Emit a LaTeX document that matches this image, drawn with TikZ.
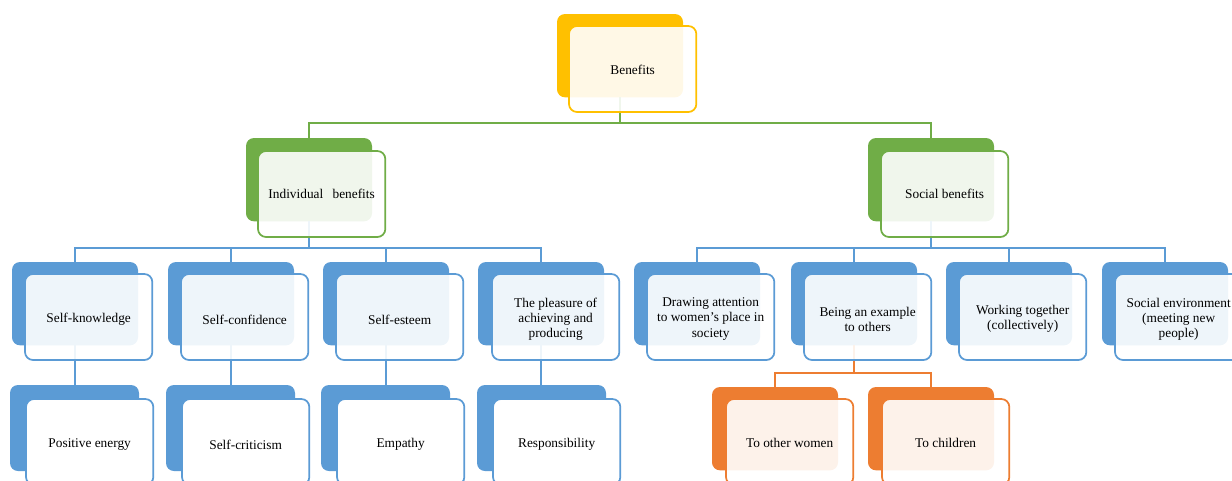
\documentclass[tikz,border=0pt]{standalone}
\usepackage{fontspec}
\setmainfont{Liberation Serif}
\definecolor{cYel}{HTML}{FFC000}
\definecolor{cGrn}{HTML}{70AD47}
\definecolor{cBlu}{HTML}{5B9BD5}
\definecolor{cOrg}{HTML}{ED7D31}
\tikzset{
  bk/.style={fill=#1, draw=none, rounded corners=6pt, anchor=north west, inner sep=0pt, outer sep=0pt,
    minimum width=94.5pt, minimum height=62.5pt},
  bkL/.style={bk=#1, minimum width=96.75pt, minimum height=64.5pt},
  fr/.style={draw=#1, line width=1.3pt, fill=white, fill opacity=0.9, rounded corners=6pt,
    anchor=north west, inner sep=0pt, outer sep=0pt, minimum width=95.5pt, minimum height=64.5pt},
  frL/.style={fr=#1, fill opacity=1},
  txt/.style={align=center, inner sep=0pt, font=\fontsize{10}{11.3}\selectfont},
  conn/.style={draw=#1, line width=1.2pt},
}
\begin{document}
\begin{tikzpicture}[x=0.75pt,y=-0.75pt]
\useasboundingbox (0,0) rectangle (1232,480);
\clip (0,0) rectangle (1232,480);
% back boxes
\node[bk=cYel] (ben-b) at (557,14) {};
\node[bk=cGrn] (ind-b) at (246,138) {};
\node[bk=cGrn] (soc-b) at (868,138) {};
\node[bk=cBlu] (sk-b) at (12,262) {};
\node[bk=cBlu] (sc-b) at (168,262) {};
\node[bk=cBlu] (se-b) at (323,262) {};
\node[bk=cBlu] (pl-b) at (478,262) {};
\node[bk=cBlu] (da-b) at (634,262) {};
\node[bk=cBlu] (be-b) at (791,262) {};
\node[bk=cBlu] (wt-b) at (946,262) {};
\node[bk=cBlu] (sv-b) at (1102,262) {};
\node[bkL=cBlu] (pe-b) at (10,385) {};
\node[bkL=cBlu] (cr-b) at (166,385) {};
\node[bkL=cBlu] (em-b) at (321,385) {};
\node[bkL=cBlu] (re-b) at (477,385) {};
\node[bk=cOrg] (ow-b) at (712,387) {};
\node[bk=cOrg] (ch-b) at (868,387) {};
% connectors
\coordinate (bus1) at (620,123);
\coordinate (bus2) at (308,248);
\coordinate (bus3) at (853,373);
\draw[conn=cGrn] (ben-b.south) -- (ben-b.south |- bus1) -| (ind-b.north);
\draw[conn=cGrn] (ben-b.south |- bus1) -| (soc-b.north);
\draw[conn=cBlu] (ind-b.south) -- (ind-b.south |- bus2) -| (sk-b.north);
\draw[conn=cBlu] (ind-b.south |- bus2) -| (sc-b.north);
\draw[conn=cBlu] (ind-b.south |- bus2) -| (se-b.north);
\draw[conn=cBlu] (ind-b.south |- bus2) -| (pl-b.north);
\draw[conn=cBlu] (soc-b.south) -- (soc-b.south |- bus2) -| (da-b.north);
\draw[conn=cBlu] (soc-b.south |- bus2) -| (be-b.north);
\draw[conn=cBlu] (soc-b.south |- bus2) -| (wt-b.north);
\draw[conn=cBlu] (soc-b.south |- bus2) -| (sv-b.north);
\draw[conn=cBlu] (sk-b.south) -- (sk-b.south |- pe-b.north);
\draw[conn=cBlu] (sc-b.south) -- (sc-b.south |- cr-b.north);
\draw[conn=cBlu] (se-b.south) -- (se-b.south |- em-b.north);
\draw[conn=cBlu] (pl-b.south) -- (pl-b.south |- re-b.north);
\draw[conn=cOrg] (be-b.south) -- (be-b.south |- bus3) -| (ow-b.north);
\draw[conn=cOrg] (be-b.south |- bus3) -| (ch-b.north);
% front boxes
\node[fr=cYel] (ben) at (569,26) {};
\node[fr=cGrn] (ind) at (258,151) {};
\node[fr=cGrn] (soc) at (881,151) {};
\node[fr=cBlu] (sk) at (25,274) {};
\node[fr=cBlu] (sc) at (181,274) {};
\node[fr=cBlu] (se) at (336,274) {};
\node[fr=cBlu] (pl) at (492,274) {};
\node[fr=cBlu] (da) at (647,274) {};
\node[fr=cBlu] (be) at (804,274) {};
\node[fr=cBlu] (wt) at (959,274) {};
\node[fr=cBlu] (sv) at (1115,274) {};
\node[frL=cBlu] (pe) at (26,399) {};
\node[frL=cBlu] (cr) at (182,399) {};
\node[frL=cBlu] (em) at (337,399) {};
\node[frL=cBlu] (re) at (493,399) {};
\node[fr=cOrg] (ow) at (726,399) {};
\node[fr=cOrg] (ch) at (882,399) {};
% texts
\node[txt] (ben-t) at ([yshift=-0.5pt]ben.center) {Benefits};
\node[txt] (ind-t) at (ind.center) {Individual\hspace{0.45em} benefits};
\node[txt] (soc-t) at (soc.center) {Social benefits};
\node[txt] (sk-t) at ([yshift=-2pt]sk.center) {Self-knowledge};
\node[txt] (sc-t) at ([yshift=-2pt]sc.center) {Self-confidence};
\node[txt] (se-t) at ([yshift=-2pt]se.center) {Self-esteem};
\node[txt] (pl-t) at ([yshift=-1.5pt]pl.center) {The pleasure of\\achieving and\\producing};
\node[txt] (da-t) at ([yshift=-1.5pt]da.center) {Drawing attention\\to women’s place in\\society};
\node[txt] (be-t) at ([yshift=-1.5pt]be.center) {Being an example\\to others};
\node[txt] (wt-t) at ([yshift=-1.5pt]wt.center) {Working together\\(collectively)};
\node[txt] (sv-t) at ([yshift=-1.5pt]sv.center) {Social environment\\(meeting new\\people)};
\node[txt] (pe-t) at ([yshift=-2pt]pe.center) {Positive energy};
\node[txt] (cr-t) at ([yshift=-2pt]cr.center) {Self-criticism};
\node[txt] (em-t) at ([yshift=-2pt]em.center) {Empathy};
\node[txt] (re-t) at ([yshift=-2pt]re.center) {Responsibility};
\node[txt] (ow-t) at ([yshift=-1pt]ow.center) {To other women};
\node[txt] (ch-t) at ([yshift=-1pt]ch.center) {To children};
\end{tikzpicture}
\end{document}
